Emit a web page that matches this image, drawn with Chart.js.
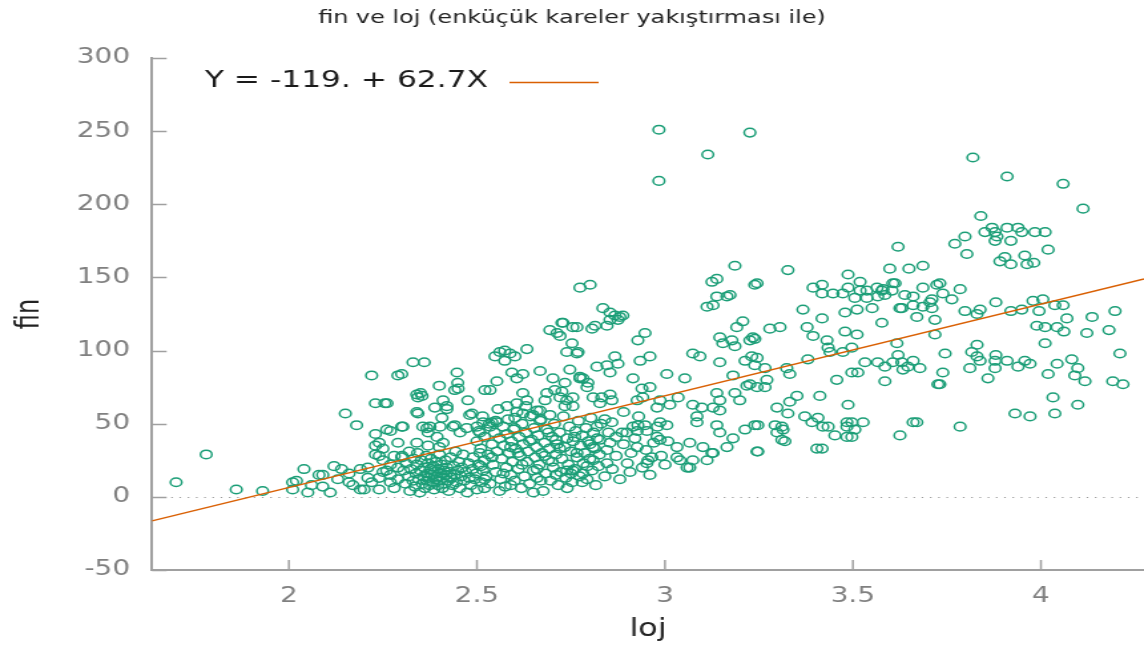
<!DOCTYPE html>
<html>
<head>
<meta charset="utf-8">
<title>fin ve loj</title>
<script src="https://cdn.jsdelivr.net/npm/chart.js@4.4.1/dist/chart.umd.min.js"></script>
<style>
  html, body { margin: 0; padding: 0; background: #fff; overflow: hidden; }
  /* the reference is a horizontally stretched gnuplot picture, so the canvas is drawn narrow and stretched */
  #wrap { width: 860px; height: 648px; transform: scaleX(1.3302); transform-origin: 0 0; }
</style>
</head>
<body>
<div id="wrap"><canvas id="graph" width="860" height="648"></canvas></div>
<script>
// chart texts
const chartTitle = 'fin ve loj (enküçük kareler yakıştırması ile)';
const xTitle = 'loj';
const yTitle = 'fin';
const fitLabel = 'Y = -119. + 62.7X';

// fit coefficients read from the key
const fitIntercept = -119;
const fitSlope = 62.7;

// axes
const xMin = 1.636, xMax = 4.274;
const yMin = -50, yMax = 300;
const xTicks = [2, 2.5, 3, 3.5, 4];
const xTickLabels = ['2', '2.5', '3', '3.5', '4'];
const yTicks = [-50, 0, 50, 100, 150, 200, 250, 300];
const yTickLabels = ['-50', '0', '50', '100', '150', '200', '250', '300'];

// observations [loj, fin], grouped roughly by area of the plot
const obsLeft = [
  [1.70,10],[1.78,29],[1.86,5],[1.93,4],[2.01,10],[2.02,11],[2.04,19],[2.01,5],[2.05,3],[2.06,8],
  [2.08,15],[2.09,7],[2.11,3],[2.09,15],[2.12,21],[2.14,19],[2.16,16],[2.15,57],[2.18,49],[2.19,19],
  [2.19,5],[2.16,10],[2.13,12],[2.17,8],[2.21,13],[2.20,5],[2.22,10],[2.24,13],[2.24,5],[2.21,20],[2.25,17],
  [2.22,83],[2.23,64],[2.255,64],[2.23,43],[2.27,45],[2.29,83],[2.23,35],[2.24,37],[2.23,29],[2.24,28],
  [2.25,25],[2.26,18],[2.27,15],[2.28,6],[2.27,10],[2.29,37],[2.30,84],[2.30,48],[2.28,28],[2.29,20],
  [2.26,46],[2.25,33],[2.27,22],[2.29,12],[2.30,27]
];

const obsLowCluster = [
  [2.301,28],[2.305,18],[2.31,9],[2.312,23],[2.318,14],[2.32,31],[2.322,4],[2.325,19],[2.33,11],[2.332,26],
  [2.335,7],[2.338,16],[2.34,22],[2.342,30],[2.345,12],[2.348,3],[2.35,18],[2.352,25],[2.355,9],[2.358,14],
  [2.36,20],[2.362,6],[2.365,28],[2.366,11],[2.368,16],[2.37,23],[2.372,13],[2.374,8],[2.376,19],[2.378,26],
  [2.38,15],[2.382,10],[2.384,21],[2.386,5],[2.388,17],[2.39,12],[2.392,24],[2.394,14],[2.396,8],[2.398,19],
  [2.40,29],[2.402,11],[2.404,16],[2.406,22],[2.408,6],[2.41,13],[2.412,18],[2.414,9],[2.416,25],[2.418,15],
  [2.42,20],[2.423,11],[2.425,4],[2.428,17],[2.43,27],[2.432,13],[2.435,8],[2.438,21],[2.44,15],[2.443,31],
  [2.446,10],[2.449,18],[2.452,24],[2.455,6],[2.458,14],[2.46,20],[2.463,29],[2.466,11],[2.47,17],[2.474,3],
  [2.478,23],[2.48,13],[2.484,8],[2.488,19],[2.49,27],[2.494,12],[2.498,16],[2.50,5],[2.504,22],[2.508,30],
  [2.512,10],[2.516,18],[2.52,25]
];

const obsMidUpper = [
  [2.33,92],[2.36,92],[2.34,70],[2.35,71],[2.40,76],[2.45,74],[2.449,78],[2.441,73],[2.476,66],[2.41,66],
  [2.343,68],[2.354,69],[2.388,61],[2.42,62],[2.343,57],[2.407,54],[2.481,56],[2.447,85],[2.261,64],[2.303,48],
  [2.356,48],[2.375,48],[2.402,48],[2.441,49],[2.455,44],[2.5,48],[2.516,51],[2.367,47],[2.37,44],[2.34,58],
  [2.42,60],[2.487,57],[2.394,41],[2.41,37],[2.34,37],[2.37,35],[2.40,34],[2.436,48],[2.473,47],[2.508,44],
  [2.535,48],[2.553,51],[2.535,73],[2.521,73],
  [2.553,79],[2.606,81],[2.593,85],[2.622,84],[2.668,86],[2.702,81],[2.747,87],[2.774,81],[2.548,96],[2.561,99],
  [2.574,100],[2.588,98],[2.601,96],[2.574,93],[2.633,101],[2.694,114],[2.713,112],[2.726,119],[2.766,116],[2.753,105],
  [2.739,99],[2.766,98],[2.707,73],[2.726,72],[2.686,71],[2.681,66],[2.734,62],[2.755,62],[2.622,71],[2.633,66],
  [2.606,64],[2.66,59],[2.668,52],[2.694,56],[2.739,66],[2.601,54],[2.622,57],[2.649,56],[2.668,59]
];

const obsMidBand = [
  [2.50,38],[2.505,45],[2.51,33],[2.515,55],[2.52,41],[2.525,14],[2.53,29],[2.533,50],[2.535,9],[2.54,36],
  [2.543,22],[2.547,44],[2.55,17],[2.553,31],[2.556,60],[2.56,40],[2.563,12],[2.566,26],[2.57,48],[2.572,35],
  [2.575,7],[2.578,20],[2.58,43],[2.583,53],[2.586,30],[2.59,15],[2.592,38],[2.595,24],[2.598,46],[2.60,11],
  [2.603,33],[2.606,58],[2.61,19],[2.612,41],[2.615,28],[2.618,6],[2.62,50],[2.623,36],[2.626,14],[2.63,44],
  [2.633,24],[2.636,31],[2.64,9],[2.643,55],[2.646,39],[2.65,18],[2.652,47],[2.655,27],[2.658,34],[2.66,13],
  [2.663,42],[2.666,22],[2.67,53],[2.673,30],[2.676,4],[2.68,37],[2.683,16],[2.686,46],[2.69,25],[2.693,33],
  [2.696,11],[2.70,41],[2.703,20],[2.706,50],[2.71,29],[2.713,36],[2.716,8],[2.72,44],[2.723,17],[2.726,26],
  [2.73,55],[2.733,34],[2.736,13],[2.74,40],[2.743,22],[2.746,48],[2.75,31],[2.753,10],[2.756,38],[2.76,19],
  [2.763,45],[2.766,27],[2.77,52],[2.773,14],[2.776,35],[2.78,42],[2.783,23],[2.786,30],[2.79,47],[2.793,12],
  [2.796,38],[2.80,26],[2.803,54],[2.806,18],[2.81,44],[2.813,33],[2.816,8],[2.82,40],[2.823,21],[2.826,29],
  [2.83,50],[2.51,21],[2.52,6],[2.54,27],[2.56,4],[2.57,16],[2.59,8],[2.61,30],[2.62,22],[2.64,38],
  [2.65,3],[2.67,11],[2.69,44],[2.71,15],[2.72,33],[2.74,6],[2.76,41],[2.78,10],[2.80,36],[2.58,62],
  [2.63,62],[2.55,52],[2.60,47],[2.68,28],[2.70,24],[2.75,16],[2.52,12],[2.54,51],[2.59,34],[2.66,19],[2.71,39]
];

const obsThreeUpper = [
  [2.774,143],[2.801,145],[2.835,129],[2.854,126],[2.867,124],[2.88,123],[2.888,124],[2.875,121],[2.854,121],[2.846,117],
  [2.806,115],[2.814,117],[2.755,116],[2.729,119],[2.721,110],[2.769,99],[2.928,107],[2.947,112],[2.819,89],[2.846,90],
  [2.875,91],[2.867,96],[2.854,85],[2.782,81],[2.795,78],[2.793,75],[2.915,81],[3.005,84],[3.053,81],[3.074,98],
  [3.093,96],[3.146,92],[2.774,82],[2.734,78],[2.721,68],[2.755,68],[2.809,68],[2.832,68],[2.854,70],[2.827,64],[2.859,66],
  [3.112,130],[3.128,131],[3.138,137],[3.165,137],[3.173,138],[3.125,147],[3.138,149],[3.186,158],[3.245,146],[3.207,120],
  [3.191,116],[3.146,109],[3.154,105],[3.178,107],[3.186,103],[3.234,109],[3.226,107],[3.231,96],[3.213,93],[3.239,90],
  [3.181,83],[3.218,76],[3.186,71],[3.199,66],[3.245,75],[3.138,71],[3.146,66],[3.128,61],[3.098,61],[3.074,63],
  [3.146,59],[3.085,55],[3.085,51],[3.035,68],[3.013,63],[2.987,66],[2.939,74],[2.96,75],[2.941,68],[2.926,66],
  [2.979,61],[2.934,93],[2.96,96],
  [2.984,251],[2.984,216],[3.114,234],[3.226,249],[3.327,155],[3.62,171],[3.598,156],[3.487,152]
];

const obsThreeLower = [
  [2.987,51],[3.005,49],[2.928,49],[2.926,45],[2.952,45],[2.979,41],[2.987,39],[3.008,38],[3.032,34],[3.066,37],
  [3.101,34],[3.125,30],[3.112,25],[3.074,25],[3.128,30],[3.165,34],[3.181,40],[3.146,44],[3.138,49],[3.213,46],
  [3.239,49],[3.245,31],[3.059,20],[3.040,25],[3.032,27],[2.965,27],[2.955,25],[2.952,23],[2.926,34],[2.907,17],
  [2.854,37],[2.846,32],[2.827,39],[2.809,34],[2.793,21],[2.782,16],[2.755,18],[2.739,18],[2.809,25],[2.846,23],
  [2.766,30],[2.819,48],[2.859,51],[2.886,44],[2.899,44],[2.915,48],[2.947,49],[3.066,20],[3.404,33],[3.484,41],
  [2.84,14],[2.86,19],[2.87,28],[2.88,12],[2.89,36],[2.90,23],[2.91,30],[2.92,40],[2.94,20],[2.95,32],
  [2.96,15],[2.97,37],[2.99,28],[3.00,22],[2.85,44],[2.89,58],[2.93,55],[2.98,48],[2.84,53],[2.87,41]
];

const obsRightMid = [
  [3.239,145],[3.394,143],[3.418,145],[3.418,139],[3.447,139],[3.473,139],[3.487,143],[3.519,147],[3.519,141],[3.537,141],
  [3.564,143],[3.577,141],[3.585,138],[3.566,137],[3.604,141],[3.612,146],[3.505,136],[3.537,136],[3.638,138],[3.66,137],
  [3.686,143],[3.723,145],[3.739,139],[3.705,133],[3.686,130],[3.66,131],[3.63,129],[3.551,129],[3.511,128],[3.479,126],
  [3.67,123],[3.718,121],[3.577,119],[3.367,128],[3.418,122],[3.378,116],[3.479,113],[3.511,111],[3.394,110],[3.431,107],
  [3.434,102],[3.439,99],[3.473,99],[3.497,102],[3.617,105],[3.279,115],[3.306,116],[3.239,108],[3.245,95],[3.266,88],
  [3.324,88],[3.332,84],[3.38,94],[3.532,92],[3.566,92],[3.585,89],[3.62,97],[3.63,92],[3.66,93],[3.678,88],
  [3.633,87],[3.646,89],[3.497,85],[3.513,85],[3.457,80],[3.585,79],[3.745,98],[3.739,85],[3.726,77],[3.271,80],
  [3.266,75],[3.226,77],[3.649,156],[3.686,158],[3.606,146],[3.580,142],[3.710,135],[3.785,142],[3.763,135],[3.625,129],
  [3.710,129],[3.718,111],[3.606,92]
];

const obsRightLow = [
  [3.351,69],[3.332,65],[3.412,69],[3.298,61],[3.327,57],[3.372,55],[3.407,54],[3.391,51],[3.42,48],[3.487,63],
  [3.484,51],[3.497,51],[3.527,51],[3.484,48],[3.505,46],[3.497,41],[3.452,42],[3.434,48],[3.247,49],[3.293,49],
  [3.311,48],[3.298,44],[3.314,46],[3.311,39],[3.319,38],[3.418,33],[3.247,31],[3.66,51],[3.67,51],[3.625,42],[3.785,48]
];

const obsFarRight = [
  [3.819,232],[3.910,219],[4.059,214],[4.112,197],[3.840,192],[3.798,178],[3.771,173],[3.803,166],[3.851,181],[3.870,184],
  [3.878,181],[3.883,178],[3.878,175],[3.910,184],[3.939,184],[3.949,181],[3.984,181],[4.011,181],[3.920,175],[4.019,169],
  [3.891,161],[3.904,164],[3.920,159],[3.957,165],[3.963,159],[3.981,160],
  [3.731,146],[3.798,127],[3.838,128],[3.830,125],[3.880,133],[3.920,127],[3.949,128],[3.979,134],[4.005,135],[3.995,127],
  [4.037,131],[4.059,131],[4.069,122],[3.989,117],[4.011,116],[4.043,116],[4.061,113],[4.122,112],[4.136,123],[4.197,127],
  [4.181,114],[4.011,105],[4.210,98],
  [3.830,104],[3.816,99],[3.830,96],[3.838,93],[3.880,97],[3.878,93],[3.910,93],[3.957,93],[3.971,91],[3.939,89],
  [3.878,88],[3.811,88],[3.859,81],[3.731,77],[4.019,84],[4.043,91],[4.082,94],[4.098,88],[4.090,83],[4.117,79],
  [4.191,79],[4.218,77],[4.032,68],[4.098,63],[3.931,57],[3.971,55],[4.037,57]
];

const observations = [].concat(obsLeft, obsLowCluster, obsMidUpper, obsMidBand,
  obsThreeUpper, obsThreeLower, obsRightMid, obsRightLow, obsFarRight);

const fontFamily = '"DejaVu Sans", Verdana, sans-serif';
const axisGray = '#a0a0a0';

// gnuplot-like decorations: inward ticks, dotted zero line, key
const gnuplotDecor = {
  id: 'gnuplotDecor',
  beforeDatasetsDraw(chart) {
    const { ctx, chartArea } = chart;
    const y0 = Math.round(chart.scales.y.getPixelForValue(0)) + 0.5;
    ctx.save();
    ctx.strokeStyle = '#9a9a9a';
    ctx.lineWidth = 1;
    ctx.setLineDash([1.2, 5]);
    ctx.beginPath();
    ctx.moveTo(chartArea.left + 2, y0);
    ctx.lineTo(chartArea.right, y0);
    ctx.stroke();
    ctx.restore();
  },
  afterDraw(chart) {
    const { ctx, chartArea } = chart;
    const xs = chart.scales.x, ys = chart.scales.y;
    ctx.save();
    ctx.strokeStyle = axisGray;
    ctx.lineWidth = 1.5;
    ctx.beginPath();
    yTicks.forEach(v => {
      const p = Math.round(ys.getPixelForValue(v)) + 0.5;
      ctx.moveTo(chartArea.left, p);
      ctx.lineTo(chartArea.left + 11, p);
    });
    xTicks.forEach(v => {
      const p = xs.getPixelForValue(v);
      ctx.moveTo(p, chartArea.bottom);
      ctx.lineTo(p, chartArea.bottom - 10);
    });
    ctx.stroke();

    // key: text first, then the line sample
    ctx.font = '23.5px ' + fontFamily;
    ctx.fillStyle = '#1a1a1a';
    ctx.textBaseline = 'middle';
    ctx.textAlign = 'left';
    ctx.fillText(fitLabel, 154, 81);
    ctx.strokeStyle = '#d95f02';
    ctx.lineWidth = 1.5;
    ctx.beginPath();
    ctx.moveTo(383, 82.5);
    ctx.lineTo(450, 82.5);
    ctx.stroke();
    ctx.restore();
  }
};

const ctx = document.getElementById('graph').getContext('2d');
const chart = new Chart(ctx, {
  data: {
    datasets: [
      {
        type: 'line',
        label: fitLabel,
        data: [
          { x: xMin, y: fitIntercept + fitSlope * xMin },
          { x: xMax, y: fitIntercept + fitSlope * xMax }
        ],
        borderColor: '#d95f02',
        borderWidth: 1.5,
        pointRadius: 0,
        fill: false,
        order: 0
      },
      {
        type: 'scatter',
        label: 'fin',
        data: observations.map(p => ({ x: p[0], y: p[1] })),
        borderColor: '#1b9e77',
        backgroundColor: 'rgba(0,0,0,0)',
        borderWidth: 1.5,
        pointRadius: 4.3,
        pointHoverRadius: 4.3,
        order: 1
      }
    ]
  },
  options: {
    responsive: false,
    devicePixelRatio: 1,
    animation: false,
    layout: { padding: 0, autoPadding: false },
    plugins: {
      legend: { display: false },
      tooltip: { enabled: false },
      title: {
        display: true,
        text: chartTitle,
        color: '#222',
        font: { family: fontFamily, size: 18, weight: 'normal' },
        padding: { top: 8, bottom: 28.4 }
      }
    },
    scales: {
      x: {
        type: 'linear',
        min: xMin,
        max: xMax,
        afterBuildTicks: s => { s.ticks = xTicks.map(v => ({ value: v })); },
        afterFit: s => { s.height = 78; },
        ticks: {
          color: '#808080',
          font: { family: fontFamily, size: 21 },
          padding: 14,
          maxRotation: 0,
          callback: v => xTickLabels[xTicks.indexOf(v)]
        },
        grid: { display: false, drawTicks: false },
        border: { display: true, color: axisGray, width: 2 },
        title: {
          display: true,
          text: xTitle,
          color: '#222',
          font: { family: fontFamily, size: 24 },
          padding: { top: 0, bottom: 4 }
        }
      },
      y: {
        type: 'linear',
        min: yMin,
        max: yMax,
        afterBuildTicks: s => { s.ticks = yTicks.map(v => ({ value: v })); },
        afterFit: s => { s.width = 114.3; },
        ticks: {
          color: '#808080',
          font: { family: fontFamily, size: 21 },
          padding: 16.5,
          callback: v => yTickLabels[yTicks.indexOf(v)]
        },
        grid: { display: false, drawTicks: false },
        border: { display: true, color: axisGray, width: 2 },
        title: {
          display: true,
          text: yTitle,
          color: '#222',
          font: { family: fontFamily, size: 24 },
          padding: { top: 8, bottom: 0 }
        }
      }
    }
  },
  plugins: [gnuplotDecor]
});
</script>
</body>
</html>
